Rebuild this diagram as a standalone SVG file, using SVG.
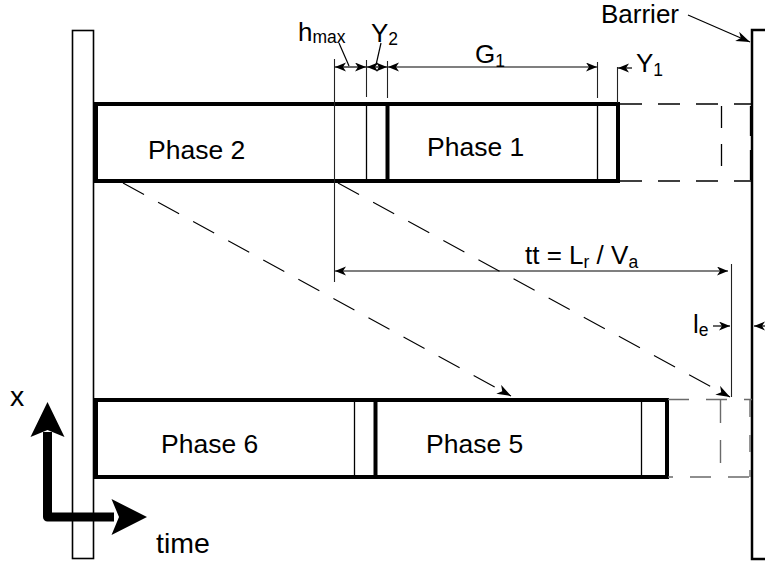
<svg xmlns="http://www.w3.org/2000/svg" width="765" height="563" viewBox="0 0 765 563">
<style>
.lbl{font-family:"Liberation Sans",Arial,sans-serif;font-size:26px;fill:#000}
.big{font-size:26.5px}
.ax{font-size:28.5px}
.sub{font-size:17.5px}
.thick{fill:none;stroke:#000;stroke-width:4}
.thin{fill:none;stroke:#000;stroke-width:1.3}
.ext{fill:none;stroke:#222;stroke-width:1.1}
.dim{fill:none;stroke:#000;stroke-width:1.2}
.dash1{fill:none;stroke:#000;stroke-width:1.3;stroke-dasharray:22 16}
.dash2{fill:none;stroke:#6a6a6a;stroke-width:1.4;stroke-dasharray:21 17}
.diag{fill:none;stroke:#000;stroke-width:1.1;stroke-dasharray:24 16}
</style>
<defs>
<marker id="ah" markerUnits="userSpaceOnUse" markerWidth="16" markerHeight="12" refX="14" refY="5" orient="auto-start-reverse" viewBox="0 0 16 12">
<path d="M0,0 L14,5 L0,10 L4,5 z" fill="#000"/>
</marker>
<marker id="dh" markerUnits="userSpaceOnUse" markerWidth="14" markerHeight="12" refX="11" refY="4.5" orient="auto-start-reverse" viewBox="0 0 14 12">
<path d="M0,0 L11,4.5 L0,9 L3,4.5 z" fill="#000"/>
</marker>
</defs>

<g id="pillar">
<rect x="72.5" y="30.5" width="21" height="528" fill="#fff" stroke="#000" stroke-width="1.6"/>
</g>

<g id="barrier">
<rect x="752" y="30" width="30" height="529" fill="none" stroke="#000" stroke-width="2.5"/>
</g>

<g id="row-upper">
<rect class="thick" x="96" y="104" width="522" height="77"/>
<line class="thin" x1="366.5" y1="104" x2="366.5" y2="181"/>
<line class="thick" x1="387.5" y1="102" x2="387.5" y2="183"/>
<line class="thin" x1="597.5" y1="104" x2="597.5" y2="181"/>
</g>
<g id="phase2"><text class="lbl big" x="148" y="159">Phase 2</text></g>
<g id="phase1"><text class="lbl big" x="427" y="156">Phase 1</text></g>

<g id="row-lower">
<rect class="thick" x="96" y="400" width="571" height="77"/>
<line class="thin" x1="354.5" y1="400" x2="354.5" y2="477"/>
<line class="thick" x1="375.5" y1="398" x2="375.5" y2="479"/>
<line class="thin" x1="641.5" y1="400" x2="641.5" y2="477"/>
</g>
<g id="phase6"><text class="lbl big" x="161" y="453">Phase 6</text></g>
<g id="phase5"><text class="lbl big" x="426" y="453">Phase 5</text></g>

<g id="future-upper">
<line class="dash1" x1="620" y1="104" x2="752" y2="104"/>
<line class="dash1" x1="620" y1="181" x2="752" y2="181"/>
<line class="dash1" x1="721.5" y1="106" x2="721.5" y2="181"/>
<line class="dash1" x1="750.5" y1="106" x2="750.5" y2="181" style="stroke-dasharray:30 14"/>
</g>

<g id="future-lower">
<line class="dash2" x1="668" y1="399.5" x2="752" y2="399.5"/>
<line class="dash2" x1="668" y1="477" x2="752" y2="477" style="stroke-dashoffset:16"/>
<line class="dash2" x1="720.5" y1="400" x2="720.5" y2="477" style="stroke-dasharray:23 17"/>
<line class="dash2" x1="750" y1="400" x2="750" y2="477" style="stroke-dasharray:17 18"/>
</g>

<g id="connectors">
<line class="diag" x1="123" y1="183" x2="511" y2="396" marker-end="url(#ah)"/>
<line class="diag" x1="338" y1="183" x2="730" y2="397" marker-end="url(#ah)"/>
<line x1="688" y1="15" x2="750" y2="42" stroke="#000" stroke-width="1.2" marker-end="url(#ah)"/>
</g>

<g id="dimensions">
<line class="ext" x1="334.5" y1="59" x2="334.5" y2="282"/>
<line class="ext" x1="366.5" y1="60" x2="366.5" y2="97"/>
<line class="ext" x1="387.5" y1="61" x2="387.5" y2="98"/>
<line class="ext" x1="597.5" y1="62" x2="597.5" y2="98"/>
<line class="ext" x1="617.5" y1="67" x2="617.5" y2="103"/>
<line class="dim" x1="335" y1="67" x2="366" y2="67" marker-start="url(#dh)" marker-end="url(#dh)"/>
<line class="dim" x1="367" y1="67" x2="387" y2="67" marker-start="url(#dh)" marker-end="url(#dh)"/>
<line class="dim" x1="388" y1="67" x2="597" y2="67" marker-start="url(#dh)" marker-end="url(#dh)"/>
<line class="dim" x1="632" y1="68" x2="618" y2="68" marker-end="url(#dh)"/>
<line class="dim" x1="339" y1="43" x2="349" y2="66"/>
<line class="dim" x1="381" y1="43" x2="376" y2="65"/>
<line class="dim" x1="335" y1="271" x2="728" y2="271" marker-start="url(#dh)" marker-end="url(#dh)"/>
<line class="ext" x1="731.5" y1="264" x2="731.5" y2="397"/>
<line class="dim" x1="713" y1="326" x2="730" y2="326" marker-end="url(#dh)"/>
<line class="dim" x1="765" y1="326" x2="754" y2="326" marker-end="url(#dh)"/>
</g>

<g id="labels">
<text class="lbl" x="298" y="41">h<tspan class="sub" dy="2">max</tspan></text>
<text class="lbl" x="371" y="42">Y<tspan class="sub" dy="3">2</tspan></text>
<text class="lbl" x="475" y="63">G<tspan class="sub" dy="4">1</tspan></text>
<text class="lbl" x="636" y="72">Y<tspan class="sub" dy="4">1</tspan></text>
<text class="lbl" x="601" y="23">Barrier</text>
<text class="lbl" x="525" y="264">tt = L<tspan class="sub" dy="4">r</tspan><tspan dy="-4"> / V</tspan><tspan class="sub" dy="4">a</tspan></text>
<text class="lbl" x="693" y="333">l<tspan class="sub" dy="3">e</tspan></text>
<text class="lbl ax" x="10" y="406">x</text>
<text class="lbl ax" x="156" y="553">time</text>
</g>

<g id="axes">
<polyline points="47.5,432 47.5,517 114,517" fill="none" stroke="#000" stroke-width="9" stroke-linejoin="round"/>
<path d="M47.5,402 L64.5,437 L47.5,430 L30.5,437 z" fill="#000"/>
<path d="M147,517 L111.5,535 L119,517 L111.5,499 z" fill="#000"/>
</g>
</svg>
